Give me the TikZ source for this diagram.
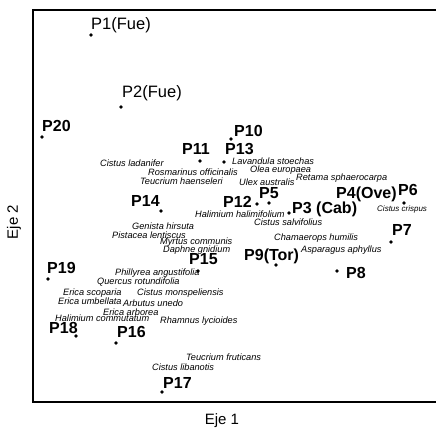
\documentclass[tikz,border=0pt]{standalone}
\usepackage{fontspec}
\setmainfont{Liberation Sans}
\begin{document}
\begin{tikzpicture}[x=1pt,y=-1pt,
  dot/.style={circle,fill=black,inner sep=0pt,minimum size=3.8pt},
  sp/.style={anchor=base west,inner sep=0pt,font=\fontsize{9.2}{10}\selectfont\itshape},
  pl/.style={anchor=base west,inner sep=0pt,font=\fontsize{16}{17}\selectfont\bfseries},
  plr/.style={anchor=base west,inner sep=0pt,font=\fontsize{16.5}{17}\selectfont},
  ax/.style={inner sep=0pt,font=\fontsize{15}{16}\selectfont},
  frame/.style={line width=1.8pt}]
\useasboundingbox (0,0) rectangle (436,430);
% frame
\coordinate (tr) at (437,10);
\coordinate (tl) at (33,10);
\coordinate (bl) at (33,402);
\coordinate (br) at (437,402);
\draw[frame] (tr) -- (tl) -- (bl) -- (br);
% axis labels
\node[ax] (e1) at (222,421) {Eje 1};
\node[ax,rotate=90] (e2) at (14,222) {Eje 2};
% points
\node[dot] (d1) at (91,35) {};
\node[dot] (d2) at (121,107) {};
\node[dot] (d20) at (42,137) {};
\node[dot] (d10) at (231,139) {};
\node[dot] (d11) at (200,161) {};
\node[dot] (d13) at (224,162) {};
\node[dot] (d14) at (161,211) {};
\node[dot] (d12) at (257,204) {};
\node[dot] (d5) at (269,203) {};
\node[dot] (d3) at (289,213) {};
\node[dot] (d6) at (404,203) {};
\node[dot] (d7) at (391,242) {};
\node[dot] (d9) at (276,265) {};
\node[dot] (d8) at (337,271) {};
\node[dot] (d15) at (198,271) {};
\node[dot] (d19) at (48,279) {};
\node[dot] (d18) at (76,336) {};
\node[dot] (d16) at (116,343) {};
\node[dot] (d17) at (162,392) {};
% point labels
\node[plr] (l1) at (91,30) {P1(Fue)};
\node[plr] (l2) at (122,98) {P2(Fue)};
\node[pl] (l20) at (42,132) {P20};
\node[pl] (l10) at (234,137) {P10};
\node[pl] (l11) at (182,155) {P11};
\node[pl] (l13) at (225,155) {P13};
\node[pl] (l5) at (259,199) {P5};
\node[pl] (l4) at (336,199) {P4(Ove)};
\node[pl] (l6) at (398,196) {P6};
\node[pl] (l14) at (131,207) {P14};
\node[pl] (l12) at (223,208) {P12};
\node[pl] (l3) at (292,214) {P3 (Cab)};
\node[pl] (l7) at (392,236) {P7};
\node[pl] (l9) at (244,260) {P9(Tor)};
\node[pl] (l8) at (346,278) {P8};
\node[pl] (l15) at (189,265) {P15};
\node[pl] (l19) at (47,273) {P19};
\node[pl] (l18) at (49,333) {P18};
\node[pl] (l16) at (117,337) {P16};
\node[pl] (l17) at (163,388) {P17};
% species
\node[sp] (s1) at (100,167) {Cistus ladanifer};
\node[sp] (s2) at (232,165) {Lavandula stoechas};
\node[sp] (s3) at (250,173) {Olea europaea};
\node[sp] (s4) at (148,176) {Rosmarinus officinalis};
\node[sp] (s5) at (296,181) {Retama sphaerocarpa};
\node[sp] (s6) at (140,185) {Teucrium haenseleri};
\node[sp] (s7) at (239,186) {Ulex australis};
\node[sp,font=\fontsize{8}{9}\selectfont\itshape] (s8) at (377,212) {Cistus crispus};
\node[sp] (s9) at (195,218) {Halimium halimifolium};
\node[sp] (s10) at (254,226) {Cistus salvifolius};
\node[sp] (s11) at (132,230) {Genista hirsuta};
\node[sp] (s12) at (112,239) {Pistacea lentiscus};
\node[sp] (s13) at (274,241) {Chamaerops humilis};
\node[sp] (s14) at (160,244) {Myrtus communis};
\node[sp] (s15) at (163,252) {Daphne gnidium};
\node[sp] (s16) at (301,252) {Asparagus aphyllus};
\node[sp] (s17) at (115,276) {Phillyrea angustifolia};
\node[sp] (s18) at (97,284) {Quercus rotundifolia};
\node[sp] (s19) at (63,295) {Erica scoparia};
\node[sp] (s20) at (137,295) {Cistus monspeliensis};
\node[sp] (s21) at (58,304) {Erica umbellata};
\node[sp] (s22) at (123,306) {Arbutus unedo};
\node[sp] (s23) at (103,315) {Erica arborea};
\node[sp] (s24) at (55,321) {Halimium commutatum};
\node[sp] (s25) at (160,323) {Rhamnus lycioides};
\node[sp] (s26) at (186,360) {Teucrium fruticans};
\node[sp] (s27) at (152,370) {Cistus libanotis};
\end{tikzpicture}
\end{document}
